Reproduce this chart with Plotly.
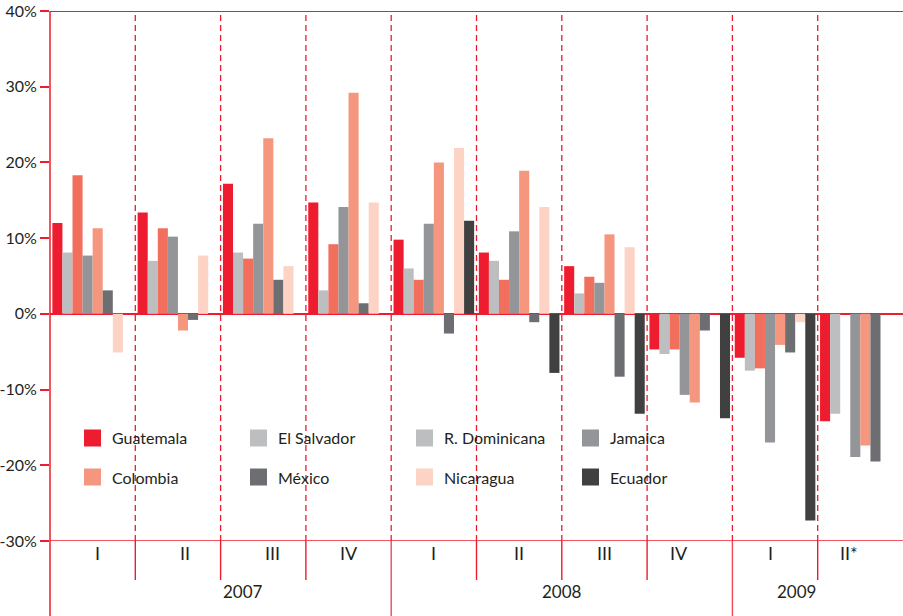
import plotly.graph_objects as go

# quarters (x) grouped by year
quarters = ['I', 'II', 'III', 'IV', 'I', 'II', 'III', 'IV', 'I', 'II*']
years = ['2007'] * 4 + ['2008'] * 4 + ['2009'] * 2
categories = [f'{y} {q}' for y, q in zip(years, quarters)]

# % change by country (None = no data)
guatemala = [12.0, 13.4, 17.2, 14.7, 9.8, 8.1, 6.3, -4.7, -5.8, -14.2]
el_salvador = [8.1, 7.0, 8.1, 3.1, 6.0, 7.0, 2.7, -5.3, -7.5, -13.2]
r_dominicana = [18.3, 11.3, 7.3, 9.2, 4.5, 4.5, 4.9, -4.7, -7.2, None]
jamaica = [7.7, 10.2, 11.9, 14.1, 11.9, 10.9, 4.1, -10.7, -17.0, -18.9]
colombia = [11.3, -2.2, 23.2, 29.2, 20.0, 18.9, 10.5, -11.7, -4.1, -17.4]
mexico = [3.1, -0.8, 4.5, 1.4, -2.6, -1.1, -8.3, -2.2, -5.1, -19.5]
nicaragua = [-5.1, 7.7, 6.3, 14.7, 21.9, 14.1, 8.8, None, -1.1, None]
ecuador = [None, None, None, None, 12.3, -7.8, -13.2, -13.8, -27.3, None]

# name, values, bar colour, legend swatch colour (the source legend shows grey for R. Dominicana)
series = [
    ('Guatemala', guatemala, '#ED1C2E', '#ED1C2E'),
    ('El Salvador', el_salvador, '#BCBEC0', '#BCBEC0'),
    ('R. Dominicana', r_dominicana, '#F26F5E', '#BCBEC0'),
    ('Jamaica', jamaica, '#939598', '#939598'),
    ('Colombia', colombia, '#F5977F', '#F5977F'),
    ('México', mexico, '#6D6E71', '#6D6E71'),
    ('Nicaragua', nicaragua, '#FDD3C5', '#FDD3C5'),
    ('Ecuador', ecuador, '#404041', '#404041'),
]
legend_order = ['Guatemala', 'El Salvador', 'R. Dominicana', 'Jamaica',
                'Colombia', 'México', 'Nicaragua', 'Ecuador']

RED = '#ED1C2E'
FONT = 'Lato'
TXT = '#231F20'

W, H = 903, 616
ML, MT, MB = 50, 11, 75
PW, PH = W - ML, H - MT - MB


def px_x(px):
    return (px - ML) / PW


def px_y(py):
    return (H - MB - py) / PH


fig = go.Figure()
for name, vals, col, _ in series:
    fig.add_trace(go.Bar(
        x=categories, y=vals, name=name,
        marker=dict(color=col, line=dict(width=0)),
        showlegend=False,
        hovertemplate='%{x}<br>' + name + ': %{y:.1f}%<extra></extra>'
    ))

shapes = []
annotations = []
n = len(categories)

# dashed quarter separators inside plot
for i in range(n - 1):
    shapes.append(dict(type='line', xref='x', yref='y', x0=i + 0.5, x1=i + 0.5, y0=-30, y1=40,
                       line=dict(color=RED, width=1.3, dash='6px,4px'), layer='below'))
# white legend background
shapes.append(dict(type='rect', xref='paper', yref='paper', x0=px_x(65), x1=px_x(700),
                   y0=px_y(494), y1=px_y(418), fillcolor='white', line=dict(width=0), layer='below'))
# top and bottom lines
shapes.append(dict(type='line', xref='paper', yref='y', x0=0, x1=1, y0=40, y1=40,
                   line=dict(color=RED, width=1.8)))
shapes.append(dict(type='line', xref='paper', yref='y', x0=0, x1=1, y0=-30, y1=-30,
                   line=dict(color='rgba(237,28,46,0.75)', width=2.2)))
# left axis line down to the bottom
shapes.append(dict(type='line', xref='paper', yref='paper', x0=0, x1=0, y0=px_y(620), y1=1,
                   line=dict(color=RED, width=1.5)))
# separators below the axis
for i in range(n - 1):
    xb = (i + 1) / n
    year_break = years[i] != years[i + 1]
    shapes.append(dict(type='line', xref='paper', yref='paper', x0=xb, x1=xb,
                       y0=px_y(620) if year_break else px_y(580), y1=0,
                       line=dict(color='rgba(237,28,46,0.8)' if year_break else RED, width=1.4)))

for i, q in enumerate(quarters):
    annotations.append(dict(x=(i + 0.5) / n, y=px_y(566), xref='paper', yref='paper', text=q,
                            showarrow=False, font=dict(family=FONT, size=18, color=TXT)))
for yr in ['2007', '2008', '2009']:
    idx = [i for i, y in enumerate(years) if y == yr]
    xc = (idx[0] + idx[-1] + 1) / 2 / n
    annotations.append(dict(x=xc, y=px_y(604), xref='paper', yref='paper', text=yr,
                            showarrow=False, font=dict(family=FONT, size=17, color=TXT)))

# legend drawn by hand: 4 columns x 2 rows
leg_cols = [84, 250, 416, 582]
leg_rows = [438, 477]
swatch_of = {s[0]: s[3] for s in series}
for p, name in enumerate(legend_order):
    r, c = divmod(p, 4)
    cx, cy = leg_cols[c], leg_rows[r]
    shapes.append(dict(type='rect', xref='paper', yref='paper', x0=px_x(cx), x1=px_x(cx + 17),
                       y0=px_y(cy + 8.5), y1=px_y(cy - 8.5), fillcolor=swatch_of[name],
                       line=dict(width=0)))
    annotations.append(dict(x=px_x(cx + 26), y=px_y(cy), xref='paper', yref='paper', text=name,
                            xanchor='left', yanchor='middle', showarrow=False,
                            font=dict(family=FONT, size=16, color=TXT)))

fig.update_layout(
    width=W, height=H,
    margin=dict(l=ML, r=0, t=MT, b=MB, autoexpand=False),
    plot_bgcolor='white', paper_bgcolor='white',
    barmode='group', bargap=0.055, bargroupgap=0,
    showlegend=False,
    shapes=shapes, annotations=annotations,
    font=dict(family=FONT, color=TXT),
    xaxis=dict(type='category', showticklabels=False, ticks='', showgrid=False,
               zeroline=False, showline=False, range=[-0.5, n - 0.5], automargin=False),
    yaxis=dict(range=[-30, 40], tickvals=list(range(-30, 41, 10)),
               ticktext=[f'{v}%' for v in range(-30, 41, 10)],
               ticks='outside', ticklen=9, tickcolor=RED, tickwidth=1.5,
               showgrid=False, showline=False, zeroline=True, zerolinecolor=RED,
               zerolinewidth=1.5, automargin=False, ticklabeloverflow='allow',
               tickfont=dict(family=FONT, size=16, color=TXT)),
)

# drop the default 8px page margin so the figure sits at the window's top-left corner
fig.write_html("out.html", config={'displayModeBar': False},
               post_script="document.body.style.margin='0px';")
